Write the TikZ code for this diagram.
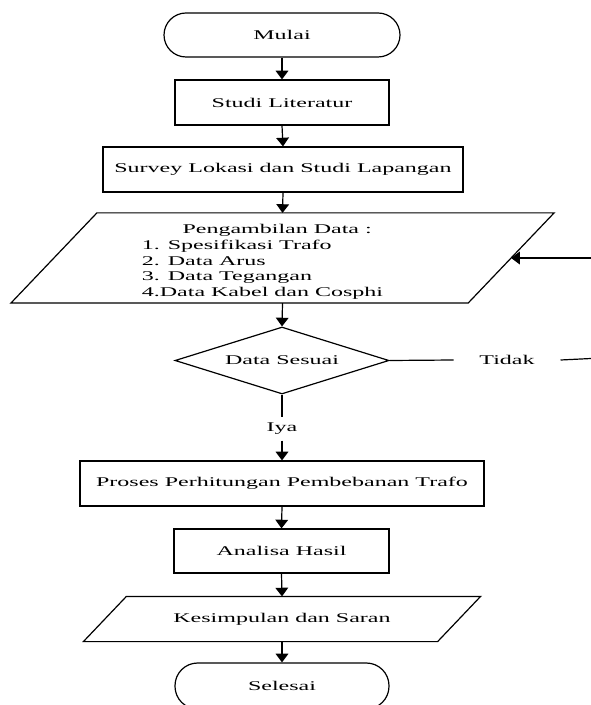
\documentclass[tikz,border=0pt]{standalone}
\usepackage{fontspec}
\setmainfont{Liberation Serif}[FakeStretch=1.8]
\usetikzlibrary{shapes.geometric,arrows.meta,calc}

\begin{document}
\begin{tikzpicture}[x=0.75pt,y=-0.75pt,line width=0.9pt,font=\fontsize{10}{11.8}\selectfont,
term/.style={draw,rectangle,rounded corners=16.5pt,minimum height=33pt,inner sep=0pt},
proc/.style={draw,rectangle,minimum height=33.75pt,inner sep=0pt},
io/.style={rectangle,inner sep=0pt},
cond/.style={draw,diamond,aspect=3.2,minimum width=160.5pt,minimum height=50.25pt,inner sep=0pt},
arr/.style={-{Triangle[length=6.5pt,width=9.5pt]}},
lbl/.style={inner ysep=4pt,inner xsep=19pt}]
\useasboundingbox (0,0) rectangle (591,705);
% langkah utama
\node[term,minimum width=177pt] (mulai) at (282,35) {Mulai};
\node[proc,minimum width=160.5pt] (studi) at (282,102.5) {Studi Literatur};
\node[proc,minimum width=270pt] (survey) at (283,169.5) {Survey Lokasi dan Studi Lapangan};
\node[io,minimum width=342pt,minimum height=66.75pt] (data) at (282.5,258) {%
\begin{tabular}{@{}l@{\hspace{30pt}}}
\multicolumn{1}{@{\hspace{22pt}}c@{\hspace{30pt}}}{\rule{0pt}{14.3pt}Pengambilan Data :}\\
1. Spesifikasi Trafo\\
2. Data Arus\\
3. Data Tegangan\\
4.Data Kabel dan Cosphi
\end{tabular}};
\draw ($(data.north west)+(43,0)$) -- ($(data.north east)+(43,0)$)
   -- ($(data.south east)+(-43,0)$) -- ($(data.south west)+(-43,0)$) -- cycle;
\node[cond] (cek) at (282,360.5) {Data Sesuai};
\node[lbl] (tidak) at (507,360) {Tidak};
\node[lbl] (iya) at (282,429) {Iya};
\node[proc,minimum width=303pt] (proses) at (282,483.5) {Proses Perhitungan Pembebanan Trafo};
\node[proc,minimum width=161.25pt,minimum height=33pt] (analisa) at (281.5,551) {Analisa Hasil};
\node[io,minimum width=264.75pt,minimum height=33pt] (simpul) at (282,619) {Kesimpulan dan Saran};
\draw ($(simpul.north west)+(21.5,0)$) -- ($(simpul.north east)+(21.5,0)$)
   -- ($(simpul.south east)+(-21.5,0)$) -- ($(simpul.south west)+(-21.5,0)$) -- cycle;
\node[term,minimum width=160.5pt,minimum height=34.5pt,rounded corners=17pt] (selesai) at (282,686) {Selesai};
% sambungan
\foreach \a/\b in {mulai/studi,studi/survey,survey/data,data/cek,iya/proses,proses/analisa,analisa/simpul,simpul/selesai} {
   \draw[arr] (\a.south) -- (\b.north);
}
\draw (cek.south) -- (iya.north);
\draw (cek.east) -- (tidak.west);
\coordinate (balik1) at (591,358.5);
\coordinate (balik2) at (591,258);
\draw (tidak.east) -- (balik1);
\draw[arr] (balik2) -- (data.east);
\end{tikzpicture}
\end{document}
